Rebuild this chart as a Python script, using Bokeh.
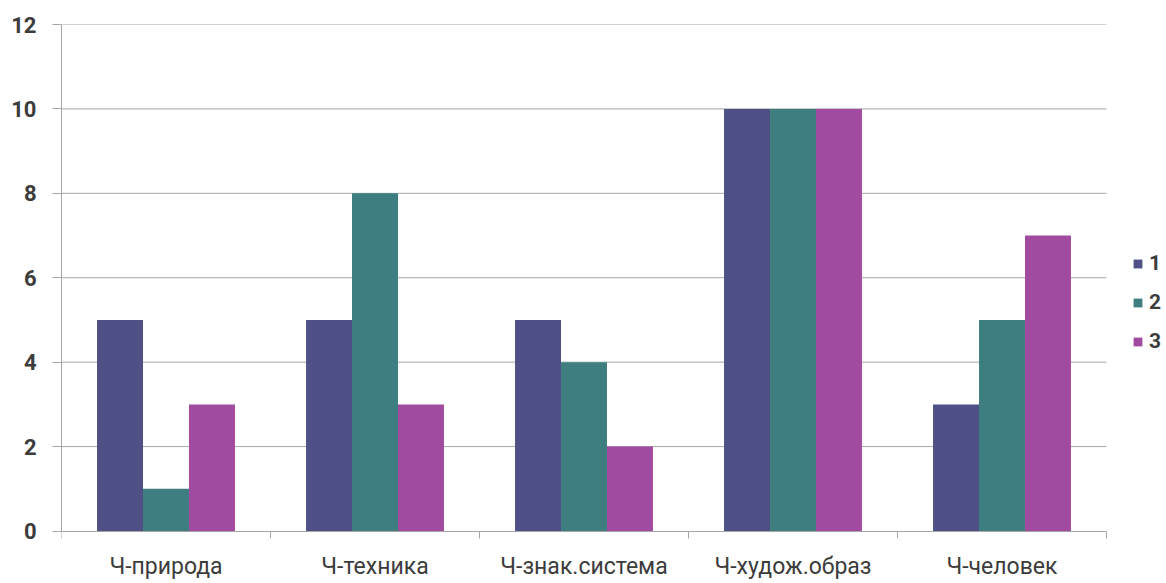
from bokeh.plotting import figure
from bokeh.models import Range1d, FixedTicker, Legend, LegendItem, ColumnDataSource
from bokeh.transform import dodge
from bokeh.embed import file_html
from bokeh.resources import INLINE

categories = ["Ч-природа", "Ч-техника", "Ч-знак.система", "Ч-худож.образ", "Ч-человек"]
series_names = ["1", "2", "3"]
s1 = [5, 5, 5, 10, 3]
s2 = [1, 8, 4, 10, 5]
s3 = [3, 3, 2, 10, 7]
y_ticks = [0, 2, 4, 6, 8, 10, 12]
colors = ["#4F5186", "#3E7E80", "#A04BA0"]

FONT = "Roboto"
TEXT_COLOR = "#3C3C3C"
GRID = "#A6A6A6"

n = len(categories)
W, H = 1166, 583
LEFT, TOP = 61, 24
cat_px = 1045 / n                # category area: 61 .. 1106
x_end = n + (W - LEFT - 1045) / cat_px
y_top = 12
px_per_unit = 506.5 / y_top      # value 0 sits at y = 530.5
y_start = -((H - TOP) - 506.5) / px_per_unit

xpos = [i + 0.5 for i in range(n)]
src = ColumnDataSource(data=dict(x=xpos, s1=s1, s2=s2, s3=s3))

p = figure(width=W, height=H, output_backend="svg", toolbar_location=None,
           x_range=Range1d(0, x_end), y_range=Range1d(y_start, y_top),
           min_border_left=LEFT, min_border_right=0, min_border_top=TOP, min_border_bottom=0)
p.outline_line_color = None
p.background_fill_color = "white"
p.border_fill_color = "white"
p.xgrid.grid_line_color = None
p.ygrid.grid_line_color = None

# horizontal gridlines limited to the category area
grid_y = y_ticks[1:]
p.segment(x0=[0] * len(grid_y), x1=[n] * len(grid_y), y0=grid_y, y1=grid_y,
          line_color=GRID, line_width=1)

bw = 0.22
renderers = []
for name, col, off, c in zip(series_names, ["s1", "s2", "s3"], [-bw, 0, bw], colors):
    r = p.vbar(x=dodge("x", off, range=p.x_range), top=col, width=bw, source=src,
               fill_color=c, line_color=None)
    renderers.append((name, r))

# y axis
p.yaxis.ticker = FixedTicker(ticks=y_ticks)
p.yaxis.bounds = (0, 12)
p.yaxis.axis_line_color = GRID
p.yaxis.major_tick_line_color = GRID
p.yaxis.major_tick_out = 9
p.yaxis.major_tick_in = 0
p.yaxis.minor_tick_line_color = None
p.yaxis.major_label_standoff = 16
p.yaxis.major_label_text_font = FONT
p.yaxis.major_label_text_font_size = "22px"
p.yaxis.major_label_text_font_style = "bold"
p.yaxis.major_label_text_color = TEXT_COLOR

# x axis at y=0: labels at category centres, ticks at boundaries
xa = p.xaxis[0]
xa.fixed_location = 0
xa.bounds = (0, n)
xa.ticker = FixedTicker(ticks=xpos, minor_ticks=list(range(n + 1)))
xa.major_label_overrides = {x: c for x, c in zip(xpos, categories)}
xa.axis_line_color = GRID
xa.major_tick_line_color = None
xa.major_tick_out = 0
xa.major_tick_in = 0
xa.minor_tick_line_color = GRID
xa.minor_tick_out = 7
xa.minor_tick_in = 0
xa.major_label_standoff = 15
xa.major_label_text_font = FONT
xa.major_label_text_font_size = "23px"
xa.major_label_text_color = TEXT_COLOR

legend = Legend(items=[LegendItem(label=s, renderers=[r]) for s, r in renderers],
                location=(1071, 230), orientation="vertical",
                glyph_width=11, glyph_height=11, label_height=20, spacing=15,
                label_standoff=6, padding=0, margin=0,
                border_line_color=None, background_fill_alpha=0,
                label_text_font=FONT, label_text_font_size="21px",
                label_text_font_style="bold",
                label_text_color=TEXT_COLOR)
p.add_layout(legend, "center")

open("out.html", "w").write(file_html(p, INLINE))
